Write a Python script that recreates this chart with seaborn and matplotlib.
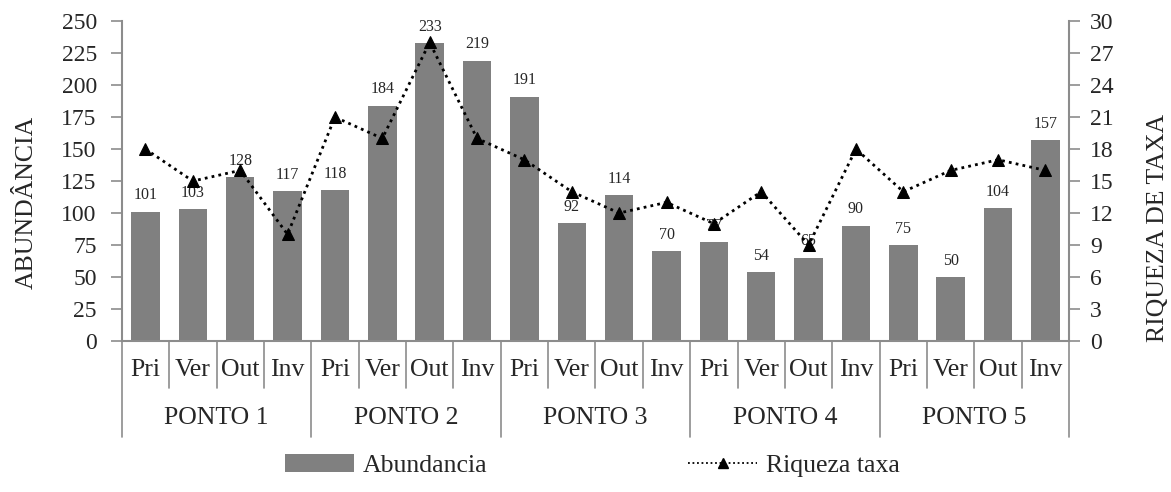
import numpy as np
import pandas as pd
import matplotlib
matplotlib.use("Agg")
import matplotlib.pyplot as plt
import matplotlib.transforms as mtransforms
from matplotlib.lines import Line2D
from matplotlib.patches import Patch
import seaborn as sns

# Data
pontos = ["PONTO 1", "PONTO 2", "PONTO 3", "PONTO 4", "PONTO 5"]
estacoes = ["Pri", "Ver", "Out", "Inv"]
abundancia = [101, 103, 128, 117,
              118, 184, 233, 219,
              191, 92, 114, 70,
              77, 54, 65, 90,
              75, 50, 104, 157]
riqueza = [18, 15, 16, 10,
           21, 19, 28, 19,
           17, 14, 12, 13,
           11, 14, 9, 18,
           14, 16, 17, 16]

sns.set_style("white")
plt.rcParams["font.family"] = ["Liberation Serif", "DejaVu Serif"]

keys = [f"{p}|{e}" for p in pontos for e in estacoes]
df = pd.DataFrame({"key": keys, "abund": abundancia, "riq": riqueza,
                   "pos": np.arange(len(keys))})

fig = plt.figure(figsize=(11.71, 4.92), dpi=100)
ax = fig.add_axes([0.104, 0.307, 0.809, 0.650])

sns.barplot(data=df, x="key", y="abund", order=keys, color="#808080",
            saturation=1, width=0.6, ax=ax, edgecolor="none")
ax.bar_label(ax.containers[0], labels=[str(v) for v in abundancia],
             padding=6, fontsize=11.5)

ax2 = ax.twinx()
sns.lineplot(data=df, x="pos", y="riq", ax=ax2, color="black",
             linestyle=(0, (1, 1.5)), linewidth=2, marker="^",
             markersize=9, markeredgecolor="black", zorder=5)

ax.set_xlim(-0.5, len(keys) - 0.5)
ax2.set_xlim(-0.5, len(keys) - 0.5)
ax.set_ylim(0, 250)
ax2.set_ylim(0, 30)
ax.set_yticks(np.arange(0, 251, 25))
ax2.set_yticks(np.arange(0, 31, 3))

axis_col = "#8c8c8c"
for a in (ax, ax2):
    for s in a.spines.values():
        s.set_visible(False)
ax.tick_params(axis="y", direction="out", length=8, width=1.2,
               color=axis_col, labelsize=17, pad=10, left=True)
ax2.tick_params(axis="y", direction="out", length=8, width=1.2,
                color=axis_col, labelsize=17, pad=7, right=True)
ax.spines["left"].set_visible(True)
ax.spines["left"].set_color(axis_col)
ax.spines["left"].set_linewidth(1.5)
ax.spines["bottom"].set_visible(True)
ax.spines["bottom"].set_color(axis_col)
ax.spines["bottom"].set_linewidth(1.5)
ax2.spines["right"].set_visible(True)
ax2.spines["right"].set_color(axis_col)
ax2.spines["right"].set_linewidth(1.5)

ax.set_xticks([])
ax.set_xlabel("")
ax2.set_xlabel("")
ax.set_ylabel("ABUNDÂNCIA", fontsize=18.5)
ax2.set_ylabel("RIQUEZA DE TAXA", fontsize=18.5)
ax.yaxis.set_label_coords(-0.089, 0.434)
ax2.yaxis.set_label_coords(1.082, 0.353)

# Hierarchical category axis
trans = mtransforms.blended_transform_factory(ax.transData, ax.transAxes)
short_drop = -0.147
long_drop = -0.30
for b in range(len(keys) + 1):
    x = b - 0.5
    y1 = long_drop if b % 4 == 0 else short_drop
    ax.add_line(Line2D([x, x], [0, y1], transform=trans, color=axis_col,
                       linewidth=1.2, clip_on=False))
for i, k in enumerate(keys):
    ax.text(i, -0.092, k.split("|")[1], transform=trans, ha="center",
            va="center", fontsize=18.5)
for g, p in enumerate(pontos):
    ax.text(g * 4 + 1.5, -0.242, p, transform=trans, ha="center",
            va="center", fontsize=18.5)

handles = [Patch(facecolor="#808080", edgecolor="none"),
           Line2D([], [], color="black", linestyle=(0, (1, 1.5)),
                  linewidth=1.3, marker="^", markersize=7)]
fig.legend(handles, ["Abundancia", "Riqueza taxa"], loc="center",
           bbox_to_anchor=(0.506, 0.053), ncol=2, frameon=False,
           fontsize=18.5, handlelength=2.7, columnspacing=7.8,
           handletextpad=0.35)

fig.savefig("out.png", dpi=100)
